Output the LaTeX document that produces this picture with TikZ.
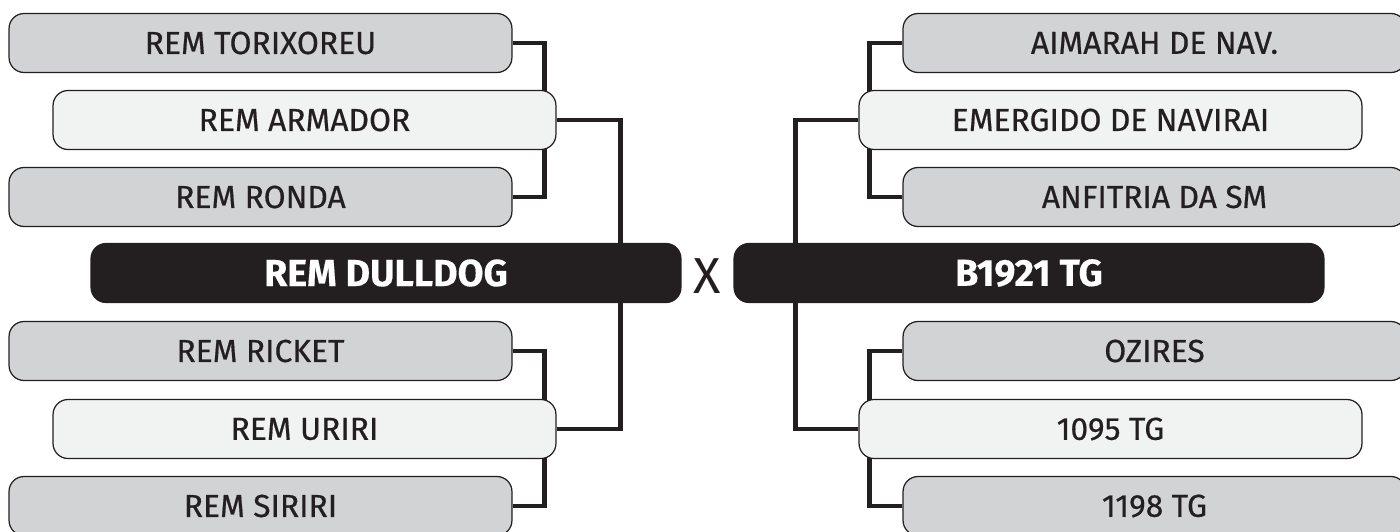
\documentclass[tikz,border=0pt]{standalone}
\usepackage{fontspec}
\setmainfont{Fira Sans}[FakeBold=0.5]
\newfontfamily\teamheavy{Fira Sans}[FakeBold=0.3]
\newfontfamily\teamthin{Fira Sans}
\usetikzlibrary{backgrounds}
\definecolor{TeamGray}{HTML}{D1D3D4}
\definecolor{TeamLight}{HTML}{F1F2F2}
\definecolor{TeamDark}{HTML}{231F20}
\tikzset{
  team/.style={draw=TeamDark, line width=0.7pt, rounded corners=0.3cm, minimum width=10.06cm, minimum height=1.18cm, inner sep=0pt, text=TeamDark, font=\fontsize{18.1}{20}\selectfont},
  seed/.style={team, fill=TeamGray},
  pick/.style={team, fill=TeamLight},
  final/.style={team, fill=TeamDark, minimum width=11.8cm, text=white, font=\fontsize{21.4}{22}\selectfont\teamheavy\bfseries},
  link/.style={draw=TeamDark, line width=2.7pt},
}
\begin{document}
\begin{tikzpicture}[x=0.02cm, y=-0.02cm]
\useasboundingbox (0,0) rectangle (1400,531);
% left side
\node[seed] (tor) at (260.5,43) {REM TORIXOREU};
\node[pick] (arm) at (304.5,120) {REM ARMADOR};
\node[seed] (ron) at (260.5,197) {REM RONDA};
\node[final] (dul) at (386,273) {REM DULLDOG};
\node[seed] (ric) at (260.5,351) {REM RICKET};
\node[pick] (uri) at (304.5,429) {REM URIRI};
\node[seed] (sir) at (260.5,506) {REM SIRIRI};
% right side
\node[seed] (aim) at (1154.5,43) {AIMARAH DE NAV.};
\node[pick] (eme) at (1110.5,120) {EMERGIDO DE NAVIRAI};
\node[seed] (anf) at (1154.5,197) {ANFITRIA DA SM};
\node[final] (bgt) at (1029,273) {B1921 TG};
\node[seed] (ozi) at (1154.5,351) {OZIRES};
\node[pick] (tgn) at (1110.5,429) {1095 TG};
\node[seed] (tge) at (1154.5,506) {1198 TG};
\node[text=TeamDark, font=\fontsize{28.8}{30}\selectfont\teamthin] (vs) at (707.5,276) {X};
% brackets
\begin{scope}[on background layer]
\draw[link] (tor.east) -- ++(32,0) |- (ron.east);
\draw[link] (ric.east) -- ++(32,0) |- (sir.east);
\draw[link] (arm.east) -| ([xshift=-1.22cm]dul.north east);
\draw[link] (uri.east) -| ([xshift=-1.22cm]dul.south east);
\draw[link] (aim.west) -- ++(-33,0) |- (anf.west);
\draw[link] (ozi.west) -- ++(-33,0) |- (tge.west);
\draw[link] (eme.west) -| ([xshift=1.24cm]bgt.north west);
\draw[link] (tgn.west) -| ([xshift=1.24cm]bgt.south west);
\end{scope}
\end{tikzpicture}
\end{document}
